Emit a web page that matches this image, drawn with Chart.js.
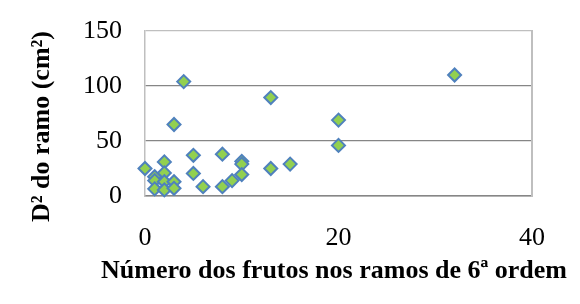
<!DOCTYPE html>
<html>
<head>
<meta charset="utf-8">
<script src="https://cdn.jsdelivr.net/npm/chart.js@4.4.0/dist/chart.umd.min.js"></script>
<style>
  html, body { margin: 0; padding: 0; background: #fff; }
  #wrap { width: 580px; height: 304px; }
</style>
</head>
<body>
<div id="wrap"><canvas id="chartCanvas"></canvas></div>
<script>
// number of fruits on 6th order branches vs D² of the branch
const frutos = [0, 1, 1, 1, 2, 2, 2, 2, 3, 3, 3, 4, 5, 5, 6, 8, 8, 9, 10, 10, 10, 13, 13, 15, 20, 20, 32];
const diametro2 = [25, 17.5, 14, 6.5, 31, 21, 13, 5.5, 13, 7, 65, 104, 37, 20.5, 8.5, 38, 8.5, 14, 31.5, 29, 19.5, 89.5, 25, 29, 69, 46, 110];
const xTicks = [0, 20, 40];
const yTicks = [0, 50, 100, 150];

document.addEventListener('DOMContentLoaded', function() {
    const ctx = document.getElementById('chartCanvas').getContext('2d');
    const serif = 'Liberation Serif, Times New Roman, serif';

    new Chart(ctx, {
        type: 'scatter',
        data: {
            datasets: [{
                data: frutos.map((f, i) => ({ x: f, y: diametro2[i] })),
                pointStyle: 'rectRot',
                pointRadius: 6.5,
                pointHoverRadius: 6.5,
                backgroundColor: '#92D050',
                borderColor: '#4F81BD',
                borderWidth: 2,
                clip: false
            }]
        },
        options: {
            responsive: true,
            maintainAspectRatio: false,
            animation: false,
            layout: { padding: { top: 31, right: 13, bottom: 0, left: 0 } },
            plugins: {
                legend: { display: false },
                tooltip: { enabled: false },
                // axis titles done with title/subtitle so they aren't squeezed to the plot width
                title: {
                    display: true,
                    position: 'bottom',
                    align: 'end',
                    text: 'Número dos frutos nos ramos de 6ª ordem',
                    color: '#000',
                    padding: { top: 0, bottom: 17 },
                    font: { family: serif, size: 26, weight: 'bold', lineHeight: 1.2 }
                },
                subtitle: {
                    display: true,
                    position: 'left',
                    align: 'end',
                    text: 'D² do ramo (cm²)',
                    color: '#000',
                    padding: { top: 27, bottom: 0 },
                    font: { family: serif, size: 26, weight: 'bold', lineHeight: 1.2 }
                }
            },
            scales: {
                x: {
                    type: 'linear',
                    min: 0,
                    max: 40,
                    afterBuildTicks: scale => { scale.ticks = xTicks.map(v => ({ value: v })); },
                    grid: { display: false, drawTicks: false },
                    border: { display: true, color: '#868686', width: 1.5 },
                    ticks: {
                        color: '#000',
                        padding: 27,
                        maxRotation: 0,
                        font: { family: serif, size: 26 }
                    },
                    afterFit: scale => {
                        scale.height = 59.8;
                        scale.paddingLeft = 0;
                        scale.paddingRight = 0;
                    }
                },
                y: {
                    type: 'linear',
                    min: 0,
                    max: 150,
                    afterBuildTicks: scale => { scale.ticks = yTicks.map(v => ({ value: v })); },
                    grid: {
                        drawTicks: false,
                        color: c => (c.tick && c.tick.value === 150) ? '#BFBFBF' : '#868686',
                        lineWidth: 1.2
                    },
                    border: { display: true, color: '#BFBFBF', width: 1.5 },
                    ticks: {
                        color: '#000',
                        padding: 23,
                        font: { family: serif, size: 26 }
                    },
                    afterFit: scale => {
                        scale.width = 86.8;
                        scale.paddingTop = 0;
                        scale.paddingBottom = 0;
                    }
                },
                y2: {
                    type: 'linear',
                    position: 'right',
                    min: 0,
                    max: 150,
                    grid: { display: false, drawTicks: false },
                    border: { display: true, color: '#BFBFBF', width: 2 },
                    ticks: { display: false },
                    afterFit: scale => {
                        scale.width = 35;
                        scale.paddingTop = 0;
                        scale.paddingBottom = 0;
                    }
                }
            }
        }
    });
});
</script>
</body>
</html>
